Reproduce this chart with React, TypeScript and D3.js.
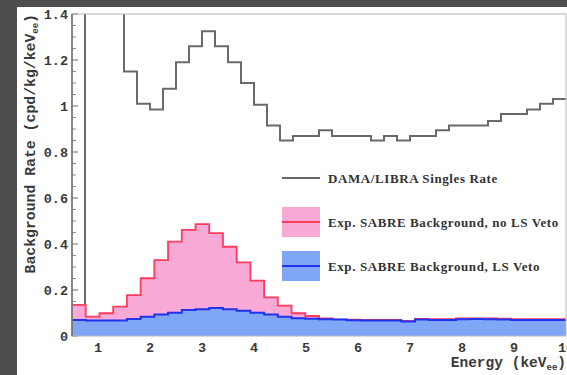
import React from "react";
import * as d3 from "d3";

// DAMA/LIBRA singles rate, 0.25 keV bins starting at 0.75 keV (first bins run off the top)
const damaStart = 0.75;
const damaBinWidth = 0.25;
const damaRate = [
  1.6, 1.6, 1.6, 1.15, 1.01, 0.985, 1.075, 1.19, 1.26, 1.325, 1.26, 1.19, 1.1,
  1.005, 0.915, 0.85, 0.87, 0.87, 0.895, 0.87, 0.87, 0.87, 0.85, 0.87, 0.85,
  0.87, 0.87, 0.895, 0.915, 0.915, 0.915, 0.935, 0.965, 0.965, 0.985, 1.01, 1.03,
];

// Expected SABRE backgrounds, 36 equal bins between 0.5 and 10 keV
const sabreStart = 0.5;
const sabreEnd = 10;
const sabreNoVeto = [
  0.135, 0.084, 0.099, 0.128, 0.178, 0.251, 0.33, 0.41, 0.461, 0.486, 0.447,
  0.388, 0.32, 0.241, 0.168, 0.132, 0.099, 0.087, 0.077, 0.071, 0.071, 0.07,
  0.07, 0.07, 0.066, 0.074, 0.073, 0.073, 0.076, 0.077, 0.076, 0.075, 0.073,
  0.073, 0.073, 0.073,
];
const sabreVeto = [
  0.07, 0.067, 0.067, 0.067, 0.074, 0.084, 0.094, 0.101, 0.113, 0.116, 0.122,
  0.116, 0.11, 0.101, 0.094, 0.084, 0.077, 0.075, 0.073, 0.072, 0.068, 0.067,
  0.067, 0.067, 0.063, 0.072, 0.07, 0.07, 0.073, 0.074, 0.073, 0.072, 0.07,
  0.07, 0.07, 0.07,
];

const xTicks = [1, 2, 3, 4, 5, 6, 7, 8, 9, 10];
const yTicks = [0, 0.2, 0.4, 0.6, 0.8, 1, 1.2, 1.4];
const yTickLabels = ["0", "0.2", "0.4", "0.6", "0.8", "1", "1.2", "1.4"];
const legendLabels = [
  "DAMA/LIBRA Singles Rate",
  "Exp. SABRE Background, no LS Veto",
  "Exp. SABRE Background, LS Veto",
];

const W = 567;
const H = 375;
const plot = { left: 72, right: 566, top: 14, bottom: 336 };

const x = d3.scaleLinear().domain([0.5, 10]).range([plot.left, plot.right]);
const y = d3.scaleLinear().domain([0, 1.4]).range([plot.bottom, plot.top]);

type Pt = [number, number];

// outline of a histogram: vertical edge from zero, then steps across each bin
function histOutline(start: number, width: number, vals: number[]): Pt[] {
  const pts: Pt[] = [[start, 0]];
  vals.forEach((v, i) => {
    pts.push([start + i * width, v]);
    pts.push([start + (i + 1) * width, v]);
  });
  return pts;
}

const lineGen = d3
  .line<Pt>()
  .x((d) => x(d[0]))
  .y((d) => y(d[1]));

const areaGen = d3
  .area<Pt>()
  .x((d) => x(d[0]))
  .y0(y(0))
  .y1((d) => y(d[1]));

const sabreWidth = (sabreEnd - sabreStart) / sabreNoVeto.length;
const pinkPts = histOutline(sabreStart, sabreWidth, sabreNoVeto).slice(1);
const bluePts = histOutline(sabreStart, sabreWidth, sabreVeto).slice(1);
const damaPts = histOutline(damaStart, damaBinWidth, damaRate);

const pinkFill = "#f9a9d6";
const redLine = "#ff3b5e";
const blueFill = "#7fa6f7";
const blueLine = "#2233ee";
const grey = "#6a6a6a";

const monoFont = "'Liberation Mono', 'DejaVu Sans Mono', monospace";
const serifFont = "'Liberation Serif', 'DejaVu Serif', serif";

export default function App() {
  const minorTicks = d3.range(0, 1.4001, 0.05).filter(
    (v) => Math.abs(v / 0.2 - Math.round(v / 0.2)) > 1e-6
  );
  return (
    <svg
      width={W}
      height={H}
      style={{ position: "absolute", left: 0, top: 0, display: "block" }}
    >
      <rect x={0} y={0} width={W} height={H} fill="#ffffff" />
      <rect x={0} y={0} width={W} height={7} fill="#4e4e4e" />
      <rect x={0} y={0} width={17} height={H} fill="#4e4e4e" />

      <defs>
        <clipPath id="plotClip">
          <rect
            x={plot.left}
            y={plot.top}
            width={plot.right - plot.left}
            height={plot.bottom - plot.top}
          />
        </clipPath>
      </defs>

      {/* y-axis ticks */}
      {yTicks.map((v) => (
        <line
          key={"M" + v}
          x1={plot.left}
          x2={plot.left + 6}
          y1={y(v)}
          y2={y(v)}
          stroke={grey}
          strokeWidth={1}
        />
      ))}
      {minorTicks.map((v) => (
        <line
          key={"m" + v}
          x1={plot.left}
          x2={plot.left + 4}
          y1={y(v)}
          y2={y(v)}
          stroke="#8a8a8a"
          strokeWidth={1}
        />
      ))}

      <g clipPath="url(#plotClip)">
        <path d={lineGen(damaPts) ?? ""} fill="none" stroke={grey} strokeWidth={2} />
        <path d={areaGen(pinkPts) ?? ""} fill={pinkFill} />
        <path d={lineGen(pinkPts) ?? ""} fill="none" stroke={redLine} strokeWidth={1.8} />
        <path d={areaGen(bluePts) ?? ""} fill={blueFill} />
        <path d={lineGen(bluePts) ?? ""} fill="none" stroke={blueLine} strokeWidth={2} />
      </g>

      {/* frame */}
      <rect
        x={plot.left}
        y={plot.top}
        width={plot.right - plot.left}
        height={plot.bottom - plot.top}
        fill="none"
        stroke="#b5b5b5"
        strokeWidth={1}
      />
      <line
        x1={plot.left}
        x2={plot.left}
        y1={plot.top}
        y2={plot.bottom}
        stroke={grey}
        strokeWidth={1.5}
      />

      {/* y tick labels */}
      {yTicks.map((v, i) => (
        <text
          key={"yl" + v}
          x={68}
          y={y(v)}
          dy="0.35em"
          textAnchor="end"
          fontFamily={monoFont}
          fontWeight="bold"
          fontSize={13.5}
          fill="#3a3a3a"
        >
          {yTickLabels[i]}
        </text>
      ))}

      {/* x tick labels */}
      {xTicks.map((v) => (
        <text
          key={"xl" + v}
          x={x(v)}
          y={352}
          textAnchor="middle"
          fontFamily={monoFont}
          fontWeight="bold"
          fontSize={13.5}
          fill="#3a3a3a"
        >
          {v}
        </text>
      ))}

      {/* axis titles */}
      <text
        x={plot.right}
        y={367}
        textAnchor="end"
        fontFamily={monoFont}
        fontWeight="bold"
        fontSize={14.5}
        fill="#3a3a3a"
      >
        Energy (keV
        <tspan fontSize={9} dy={3}>ee</tspan>
        <tspan dy={-3}>)</tspan>
      </text>
      <text
        transform={`translate(35,${plot.top}) rotate(-90)`}
        textAnchor="end"
        fontFamily={monoFont}
        fontWeight="bold"
        fontSize={14.8}
        fill="#3a3a3a"
      >
        Background Rate (cpd/kg/keV
        <tspan fontSize={9} dy={3}>ee</tspan>
        <tspan dy={-3}>)</tspan>
      </text>

      {/* legend */}
      <line x1={282} x2={320} y1={178} y2={178} stroke={grey} strokeWidth={2} />
      <rect x={282} y={207} width={38} height={30} fill={pinkFill} />
      <line x1={282} x2={320} y1={222} y2={222} stroke={redLine} strokeWidth={2} />
      <rect x={282} y={251} width={38} height={30} fill={blueFill} />
      <line x1={282} x2={320} y1={266} y2={266} stroke={blueLine} strokeWidth={2} />
      {legendLabels.map((t, i) => (
        <text
          key={t}
          x={328}
          y={[178, 222, 266][i]}
          dy="0.35em"
          fontFamily={serifFont}
          fontWeight="bold"
          fontSize={13}
          letterSpacing={0.6}
          fill="#333333"
        >
          {t}
        </text>
      ))}
    </svg>
  );
}
